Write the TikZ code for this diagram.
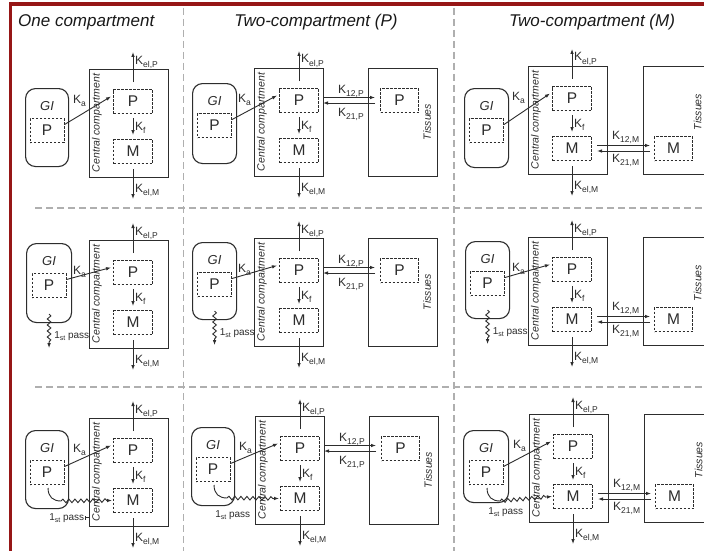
\documentclass[tikz,border=0pt]{standalone}
\usepackage{fontspec}
\setmainfont{Liberation Sans}
\usetikzlibrary{arrows.meta,decorations.pathmorphing,calc}

\definecolor{framered}{RGB}{150,22,22}
\definecolor{ink}{RGB}{45,45,45}
\definecolor{sepgray}{RGB}{175,175,175}

\newcommand\ksub[1]{\raisebox{-0.28em}{\fontsize{8.5}{9}\selectfont #1}}
\newcommand\ksubs[1]{\raisebox{-0.22em}{\fontsize{7}{8}\selectfont #1}}

\tikzset{
  solidbox/.style={draw=ink, line width=1.1pt, inner sep=0pt, anchor=north west},
  dbox/.style={draw=ink, line width=1pt, dash pattern=on 2.2pt off 1.8pt, inner sep=0pt, anchor=north west, font=\fontsize{15.5}{16}\selectfont, text=ink},
  gibox/.style={draw=ink, line width=1.1pt, rounded corners=10pt, inner sep=0pt, anchor=north west},
  gitext/.style={font=\fontsize{13}{14}\selectfont\itshape, inner sep=0pt, text=ink},
  klab/.style={font=\fontsize{12}{13}\selectfont, inner sep=0pt, anchor=base west, text=ink},
  rottext/.style={font=\fontsize{10.5}{11}\selectfont\itshape, rotate=90, inner sep=0pt, text=ink},
  passlab/.style={font=\fontsize{10}{11}\selectfont, inner sep=0pt, anchor=base west, text=ink},
  flow/.style={draw=ink, line width=0.9pt, -{Latex[length=5pt,width=3.6pt]}},
  wavy/.style={flow, decorate, decoration={snake, amplitude=1.8pt, segment length=6pt, post length=5pt}},
  titletext/.style={font=\fontsize{17}{20}\selectfont\itshape, inner sep=0pt, anchor=base, text=black!90},
  sepline/.style={draw=sepgray, line width=1.2pt, dash pattern=on 7pt off 4pt},
}

% #1 prefix, #2 cx, #3 cy, #4 central width, #5 gx rel, #6 gy rel, #7 gi width, #8 gi height, #9 inner box x
\newcommand\Panel[9]{%
 \begin{scope}[shift={(#2,#3)}]
  \node[solidbox, minimum width=#4, minimum height=108] (#1c) at (0,0) {};
  \node[dbox, minimum width=39, minimum height=24] (#1cp) at (#9,20) {P};
  \node[dbox, minimum width=39, minimum height=24] (#1cm) at (#9,70) {M};
  \node[rottext] (#1cl) at (8,54) {Central compartment};
  \node[gibox, minimum width=#7, minimum height=#8] (#1gi) at (#5,#6) {};
  \node[gitext] (#1gil) at ([yshift=-18pt]#1gi.north) {GI};
  \node[dbox, anchor=north, minimum width=34, minimum height=24] (#1gip) at ([yshift=-30pt]#1gi.north) {P};
  \draw[flow] ([yshift=7pt]#1cp.north) -- ([yshift=37pt]#1cp.north);
  \node[klab] (#1kelp) at ({#9+22},-5) {K\ksub{el,P}};
  \draw[flow] ([yshift=-4pt]#1cp.south) -- ([yshift=4pt]#1cm.north);
  \node[klab] (#1kf) at ({#9+22},61) {K\ksub{f}};
  \draw[flow] ([yshift=-5pt]#1cm.south) -- ([yshift=-35pt]#1cm.south);
  \node[klab] (#1kelm) at ({#9+22},123) {K\ksub{el,M}};
  \draw[flow] ([yshift=6pt]#1gip.east) -- ([xshift=-2pt,yshift=5pt]#1cp.west);
  \node[klab] (#1ka) at (-16,34) {K\ksub{a}};
 \end{scope}}

\newcommand\TissP[3]{%
 \begin{scope}[shift={(#2,#3)}]
  \node[solidbox, minimum width=69, minimum height=108] (#1t) at (114,0) {};
  \node[dbox, minimum width=38, minimum height=24] (#1tp) at (126,20) {P};
  \node[rottext] (#1tl) at (173,54) {Tissues};
  \draw[flow] ([xshift=4pt,yshift=3pt]#1cp.east) -- ([xshift=-5pt,yshift=3pt]#1tp.west);
  \draw[flow] ([xshift=-5pt,yshift=-2.5pt]#1tp.west) -- ([xshift=4pt,yshift=-2.5pt]#1cp.east);
  \node[klab] (#1k12) at (84,25) {K\ksub{12,P}};
  \node[klab] (#1k21) at (84,48) {K\ksub{21,P}};
 \end{scope}}

\newcommand\TissM[3]{%
 \begin{scope}[shift={(#2,#3)}]
  \node[solidbox, minimum width=90, minimum height=108] (#1t) at (115,0) {};
  \node[dbox, minimum width=38, minimum height=24] (#1tm) at (126,70) {M};
  \node[rottext] (#1tl) at (169.5,46) {Tissues};
  \draw[flow] ([xshift=5pt,yshift=3pt]#1cm.east) -- ([xshift=-4pt,yshift=3pt]#1tm.west);
  \draw[flow] ([xshift=-4pt,yshift=-2.5pt]#1tm.west) -- ([xshift=5pt,yshift=-2.5pt]#1cm.east);
  \node[klab] (#1k12) at (84,73) {K\ksub{12,M}};
  \node[klab] (#1k21) at (84,96) {K\ksub{21,M}};
 \end{scope}}

\newcommand\PassDown[1]{%
  \draw[wavy] ([yshift=9pt]#1gi.south) -- ([yshift=-25pt]#1gi.south);
  \node[passlab] (#1pl) at ([xshift=5pt,yshift=-15pt]#1gi.south) {1\ksubs{st} pass};}

\newcommand\PassCurve[1]{%
  \coordinate (#1pj) at ([xshift=14pt,yshift=-16pt]#1gip.south);
  \draw[ink, line width=0.9pt] ([xshift=1pt,yshift=-3pt]#1gip.south) .. controls ([xshift=1pt,yshift=-12pt]#1gip.south) and ([xshift=6pt,yshift=-16pt]#1gip.south) .. (#1pj);
  \draw[wavy] (#1pj) -- ([xshift=-1pt]#1cm.west);
  \node[passlab] (#1pl) at ([xshift=2pt,yshift=-11pt]#1gi.south) {1\ksubs{st} pass};}

\begin{document}
\begin{tikzpicture}[x=1pt,y=-1pt]
\clip (0,0) rectangle (704,551);
\fill[white] (0,0) rectangle (704,551);

% separators
\coordinate (v1t) at (183.5,8);  \coordinate (v1b) at (183.5,551);
\coordinate (v2t) at (454,8);    \coordinate (v2b) at (454,551);
\coordinate (h1l) at (35,208);   \coordinate (h1r) at (704,208);
\coordinate (h2l) at (35,387);   \coordinate (h2r) at (704,387);
\draw[sepline] (v1t) -- (v1b);
\draw[sepline] (v2t) -- (v2b);
\draw[sepline] (h1l) -- (h1r);
\draw[sepline] (h2l) -- (h2r);

% frame
\coordinate (fa) at (10.5,551); \coordinate (fb) at (10.5,4); \coordinate (fc) at (704,4);
\draw[framered, line width=3.4pt, line join=miter] (fa) -- (fb) -- (fc);

% titles
\node[titletext, anchor=base west] (t1) at (18,27) {One compartment};
\node[titletext] (t2) at (316,27) {Two-compartment (P)};
\node[titletext] (t3) at (592,27) {Two-compartment (M)};

% panels
\Panel{a}{89}{69}{79}{-64}{19}{43}{78}{24}
\Panel{b}{254}{68}{69}{-62}{15}{44}{80}{25}
\Panel{c}{528}{66}{79}{-64}{22}{44}{79}{24}
\Panel{d}{89}{240}{79}{-63}{3}{45}{79}{24}
\Panel{e}{254}{238}{69}{-62}{4}{44}{77}{25}
\Panel{f}{528}{237}{79}{-63}{4}{44}{77}{24}
\Panel{g}{89}{418}{79}{-64}{12}{43}{78}{24}
\Panel{h}{255}{416}{69}{-64}{11}{43}{78}{25}
\Panel{i}{529}{414}{79}{-66}{16}{45}{72}{24}

\TissP{b}{254}{68}
\TissP{e}{254}{238}
\TissP{h}{255}{416}
\TissM{c}{528}{66}
\TissM{f}{528}{237}
\TissM{i}{529}{414}

\PassDown{d}
\PassDown{e}
\PassDown{f}
\PassCurve{g}
\PassCurve{h}
\PassCurve{i}
\draw[ink, line width=0.8pt, {Bar[width=4pt]}-] ([xshift=1pt]gpl.east) -- (gpl.east -| gc.west);
\end{tikzpicture}
\end{document}
